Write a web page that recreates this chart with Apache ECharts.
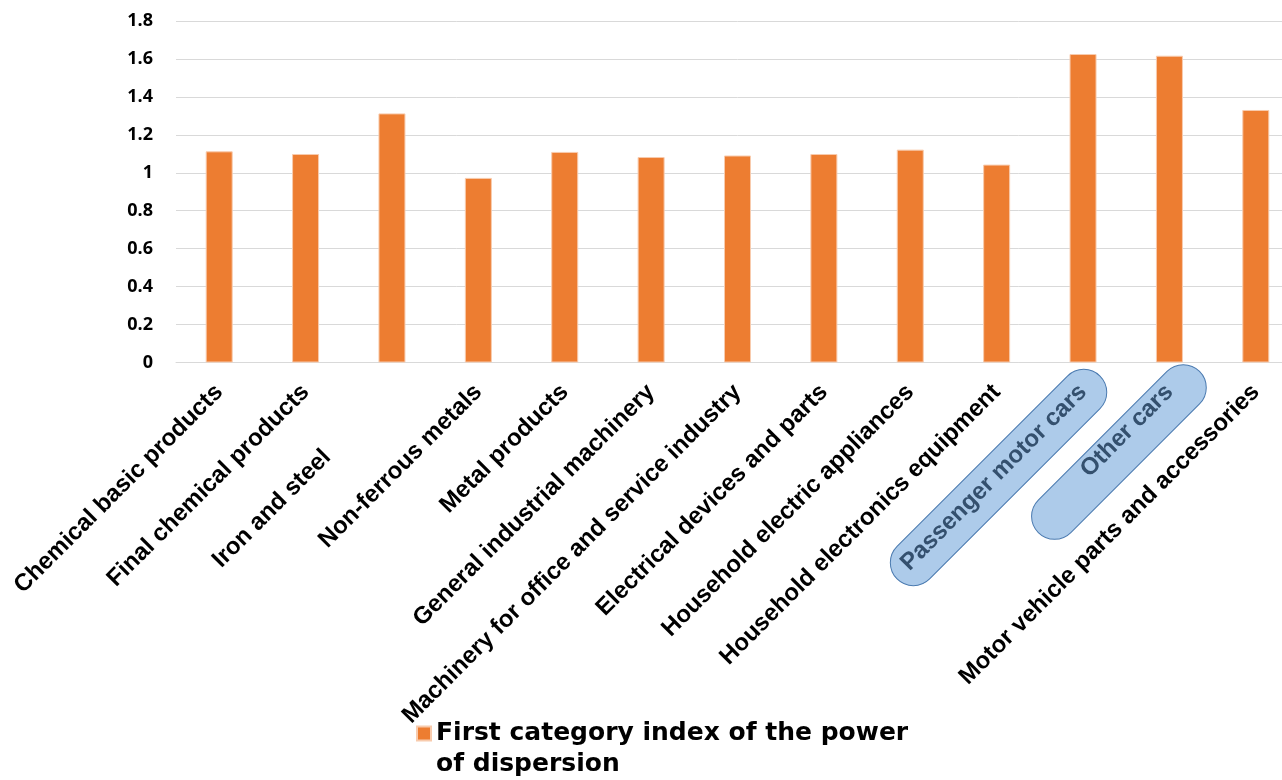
<!DOCTYPE html>
<html>
<head>
<meta charset="utf-8">
<script src="https://cdn.jsdelivr.net/npm/echarts@6/dist/echarts.min.js"></script>
<style>
  html, body { margin: 0; padding: 0; background: #fff; overflow: hidden; }
  #chart { width: 1300px; height: 780px; }
</style>
</head>
<body>
<div id="chart"></div>
<script>
// ---- data ----
const categories = [
  'Chemical basic products',
  'Final chemical products',
  'Iron and steel',
  'Non-ferrous metals',
  'Metal products',
  'General industrial machinery',
  'Machinery for office and service industry',
  'Electrical devices and parts',
  'Household electric appliances',
  'Household electronics equipment',
  'Passenger motor cars',
  'Other cars',
  'Motor vehicle parts and accessories'
];
const seriesName = 'First category index of the power of dispersion';
const values = [1.113, 1.099, 1.313, 0.973, 1.110, 1.083, 1.091, 1.099, 1.122, 1.043, 1.626, 1.617, 1.331];
const yMin = 0, yMax = 1.8, yStep = 0.2;
const highlighted = ['Passenger motor cars', 'Other cars'];

// ---- chart ----
const chart = echarts.init(document.getElementById('chart'), null, { renderer: 'canvas' });

const catData = categories.map(function (c) {
  const item = { value: c };
  if (highlighted.indexOf(c) >= 0) {
    item.textStyle = { color: '#34506e' };
  }
  if (c === 'Iron and steel') {
    item.textStyle = { padding: [0, 92, 0, 0] };
  }
  return item;
});

chart.setOption({
  animation: false,
  backgroundColor: '#fff',
  grid: { left: 176, top: 21, width: 1123, height: 341.5, containLabel: false },
  xAxis: {
    type: 'category',
    data: catData,
    axisLine: { show: true, lineStyle: { color: '#D9D9D9', width: 1 } },
    axisTick: { show: false },
    axisLabel: {
      interval: 0,
      rotate: 45,
      margin: 26,
      fontFamily: '"Liberation Sans", Arial, sans-serif',
      fontWeight: 'bold',
      fontSize: 24,
      color: '#000'
    }
  },
  yAxis: {
    type: 'value',
    min: yMin,
    max: yMax,
    interval: yStep,
    axisLine: { show: false },
    axisTick: { show: false },
    splitLine: { lineStyle: { color: '#D9D9D9', width: 1 } },
    axisLabel: {
      margin: 23,
      fontFamily: '"Open Sans", "Liberation Sans", sans-serif',
      fontWeight: 'bold',
      fontSize: 18,
      color: '#000'
    }
  },
  legend: {
    data: [seriesName],
    left: 416,
    top: 687,
    padding: 0,
    icon: 'rect',
    itemWidth: 14,
    itemHeight: 14,
    formatter: function (name) { return '\n' + name; },
    textStyle: {
      fontFamily: '"DejaVu Sans", sans-serif',
      fontWeight: 'bold',
      fontSize: 25,
      color: '#000',
      width: 490,
      overflow: 'break',
      lineHeight: 31
    }
  },
  series: [{
    name: seriesName,
    type: 'bar',
    data: values,
    barWidth: 27,
    itemStyle: { color: '#ED7D31', borderColor: '#F8CBAD', borderWidth: 1 }
  }]
});

// ---- highlight capsules around two category labels, positioned from the axis ----
function capsule(cat, dx, dy, len, thick) {
  const x0 = chart.convertToPixel({ xAxisIndex: 0 }, cat);
  const y0 = chart.convertToPixel({ yAxisIndex: 0 }, 0);
  return {
    type: 'rect',
    x: x0 + dx,
    y: y0 + dy,
    rotation: Math.PI / 4,
    z: -1,
    silent: true,
    shape: { x: -len / 2, y: -thick / 2, width: len, height: thick, r: thick / 2 },
    style: { fill: '#ADCBEA', stroke: '#4A7AB0', lineWidth: 1 }
  };
}
chart.setOption({
  graphic: [
    capsule('Passenger motor cars', -84.5, 115, 287, 46),
    capsule('Other cars', -50.5, 89.5, 228, 46)
  ]
});
</script>
</body>
</html>
